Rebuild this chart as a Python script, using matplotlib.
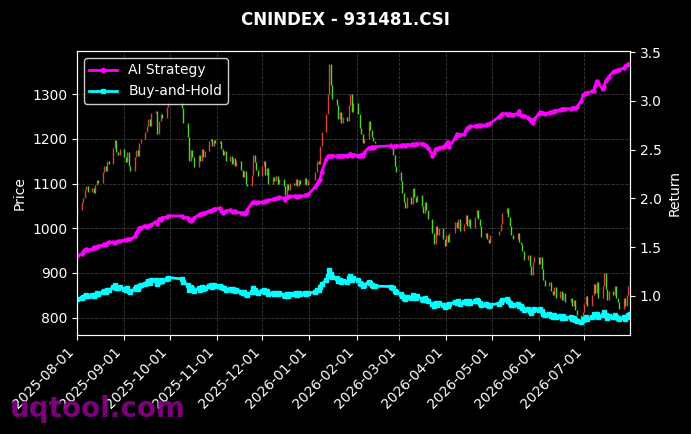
import numpy as np
import pandas as pd
import matplotlib
matplotlib.use("Agg")
import matplotlib.pyplot as plt
import matplotlib.dates as mdates


# trading calendar (weekdays minus exchange holidays)
holidays = ["2025-10-01", "2025-10-02", "2025-10-03", "2025-10-06", "2025-10-07",
            "2025-10-08", "2026-01-01", "2026-01-02", "2026-02-16", "2026-02-17",
            "2026-02-18", "2026-02-19", "2026-02-20", "2026-02-23", "2026-04-06",
            "2026-05-01", "2026-05-04", "2026-05-05", "2026-06-19"]

# daily closes, month by month
close_aug = [1042, 1060, 1068, 1085, 1094, 1082, 1090, 1078, 1096, 1108, 1102,
             1125, 1140, 1128, 1150, 1145, 1180, 1198, 1170, 1165, 1178]
close_sep = [1160, 1148, 1170, 1140, 1128, 1160, 1175, 1162, 1190, 1200, 1215,
             1228, 1245, 1230, 1258, 1262, 1210, 1240, 1255, 1248, 1272, 1285]
close_oct = [1270, 1235, 1205, 1150, 1175, 1160, 1138, 1165, 1150, 1178, 1160,
             1172, 1195, 1200, 1185, 1198, 1190]
close_nov = [1195, 1178, 1165, 1172, 1150, 1162, 1145, 1158, 1140, 1150, 1130,
             1115, 1128, 1100, 1095, 1120, 1165, 1148, 1130, 1118]
close_dec = [1140, 1150, 1120, 1135, 1100, 1115, 1105, 1118, 1100, 1110, 1095,
             1075, 1100, 1085, 1102, 1098, 1110, 1095, 1108, 1100, 1112, 1098, 1108]
close_jan = [1125, 1150, 1145, 1185, 1215, 1255, 1300, 1368, 1320, 1290, 1275,
             1245, 1260, 1235, 1250, 1240, 1275, 1300, 1260, 1280]
close_feb = [1255, 1225, 1210, 1190, 1200, 1240, 1220, 1205, 1195, 1190, 1185,
             1165, 1140, 1125]
close_mar = [1105, 1080, 1060, 1045, 1070, 1055, 1090, 1070, 1060, 1075, 1050,
             1035, 1060, 1040, 1020, 990, 965, 1005, 985, 1000, 975, 960]
close_apr = [985, 970, 990, 1015, 1000, 1020, 995, 1010, 1030, 1005, 1020,
             1000, 1025, 1040, 1020, 1005, 980, 990, 975, 968, 985]
close_may = [995, 1010, 1035, 1045, 1025, 1005, 985, 975, 990, 970, 965, 950,
             930, 940, 915, 895, 925, 935]
close_jun = [920, 935, 910, 885, 870, 880, 860, 850, 868, 845, 860, 840, 855,
             835, 845, 825, 840, 818, 805, 790, 812]
close_jul = [830, 848, 825, 850, 875, 855, 880, 845, 870, 900, 865, 840, 860,
             850, 870, 845, 835, 820, 845, 825, 850, 870, 885]
first_open = 1032
base_price = 1082

# AI strategy cumulative return
ai_aug = [1.41, 1.43, 1.45, 1.47, 1.48, 1.47, 1.48, 1.50, 1.49, 1.50, 1.51,
          1.52, 1.53, 1.52, 1.54, 1.55, 1.55, 1.54, 1.55, 1.56, 1.56]
ai_sep = [1.57, 1.57, 1.58, 1.58, 1.58, 1.61, 1.64, 1.67, 1.70, 1.70, 1.72,
          1.71, 1.72, 1.73, 1.73, 1.76, 1.74, 1.79, 1.78, 1.80, 1.81, 1.82]
ai_oct = [1.82, 1.81, 1.80, 1.78, 1.77, 1.78, 1.80, 1.83, 1.84, 1.84, 1.85,
          1.85, 1.87, 1.87, 1.88, 1.89, 1.89]
ai_nov = [1.90, 1.87, 1.85, 1.86, 1.87, 1.88, 1.87, 1.86, 1.87, 1.86, 1.85,
          1.85, 1.84, 1.85, 1.88, 1.95, 1.96, 1.96, 1.95, 1.96]
ai_dec = [1.96, 1.96, 1.97, 1.97, 1.98, 1.99, 1.99, 2.00, 2.00, 2.01, 2.00,
          1.98, 2.01, 2.01, 2.02, 2.02, 2.02, 2.01, 2.02, 2.02, 2.03, 2.03, 2.04]
ai_jan = [2.12, 2.15, 2.18, 2.20, 2.27, 2.40, 2.43, 2.43, 2.43, 2.44, 2.43,
          2.44, 2.44, 2.43, 2.44, 2.44, 2.45, 2.46, 2.44, 2.45]
ai_feb = [2.44, 2.44, 2.45, 2.44, 2.47, 2.52, 2.52, 2.53, 2.52, 2.53, 2.54,
          2.53, 2.54, 2.54]
ai_mar = [2.54, 2.55, 2.55, 2.54, 2.55, 2.55, 2.56, 2.55, 2.56, 2.56, 2.56,
          2.56, 2.55, 2.54, 2.52, 2.44, 2.47, 2.51, 2.51, 2.52, 2.53, 2.54]
ai_apr = [2.56, 2.58, 2.53, 2.62, 2.66, 2.65, 2.65, 2.66, 2.70, 2.72, 2.73,
          2.74, 2.74, 2.74, 2.75, 2.74, 2.75, 2.75, 2.76, 2.76, 2.77]
ai_may = [2.84, 2.86, 2.87, 2.87, 2.86, 2.87, 2.86, 2.86, 2.87, 2.90, 2.86,
          2.85, 2.85, 2.83, 2.81, 2.79, 2.77, 2.81]
ai_jun = [2.87, 2.89, 2.88, 2.88, 2.87, 2.88, 2.89, 2.89, 2.90, 2.90, 2.91,
          2.92, 2.92, 2.92, 2.92, 2.93, 2.93, 2.93, 2.94, 3.00, 3.06]
ai_jul = [3.07, 3.08, 3.08, 3.10, 3.10, 3.15, 3.20, 3.18, 3.12, 3.15, 3.20,
          3.22, 3.25, 3.30, 3.31, 3.31, 3.32, 3.32, 3.34, 3.36, 3.37, 3.38, 3.38]

dates = pd.bdate_range("2025-08-01", "2026-07-31")
dates = dates[~dates.isin(pd.to_datetime(holidays))]

close = np.array(close_aug + close_sep + close_oct + close_nov + close_dec
                 + close_jan + close_feb + close_mar + close_apr + close_may
                 + close_jun + close_jul, dtype=float)
ai_return = np.array(ai_aug + ai_sep + ai_oct + ai_nov + ai_dec + ai_jan
                     + ai_feb + ai_mar + ai_apr + ai_may + ai_jun + ai_jul)
opens = np.r_[first_open, close[:-1]]
bh_return = close / base_price

fig, ax = plt.subplots(figsize=(6.91, 4.34), dpi=100)
fig.patch.set_facecolor("black")
ax.set_facecolor("black")
fig.subplots_adjust(left=0.1114, right=0.9117, top=0.8825, bottom=0.228)

# candles (red up, green down)
up = close >= opens
ax.vlines(dates[up], opens[up], close[up], color="#ff5040", linewidth=1.0, alpha=0.85)
ax.vlines(dates[~up], opens[~up], close[~up], color="#55ff33", linewidth=1.0, alpha=0.85)
ax.set_ylabel("Price", color="white")
ax.grid(True, color="gray", linestyle="--", linewidth=0.6, alpha=0.45)

ax2 = ax.twinx()
ax2.plot(dates, ai_return, color="#ff00ff", marker="o", markersize=2.2,
         linewidth=2.0, label="AI Strategy")
ax2.plot(dates, bh_return, color="#00ffff", marker="s", markersize=2.2,
         linewidth=2.0, label="Buy-and-Hold")
ax2.set_ylabel("Return", color="white")

for a in (ax, ax2):
    a.tick_params(colors="white")
    for s in a.spines.values():
        s.set_color("white")

ax.set_xlim(dates[0], dates[-1])
ax.xaxis.set_major_locator(mdates.MonthLocator())
ax.xaxis.set_major_formatter(mdates.DateFormatter("%Y-%m-%d"))
plt.setp(ax.get_xticklabels(), rotation=45, ha="right")

leg = ax2.legend(loc="upper left", facecolor="black", edgecolor="white",
                 labelcolor="white", markerscale=1.4)

fig.suptitle("CNINDEX - 931481.CSI", color="white", fontweight="bold",
             fontsize=12, y=0.975)
fig.text(0.015, 0.04, "uqtool.com", color="#8b008b", fontsize=20,
         fontweight="bold", alpha=0.9)

plt.savefig("out.png", dpi=100, facecolor="black")
